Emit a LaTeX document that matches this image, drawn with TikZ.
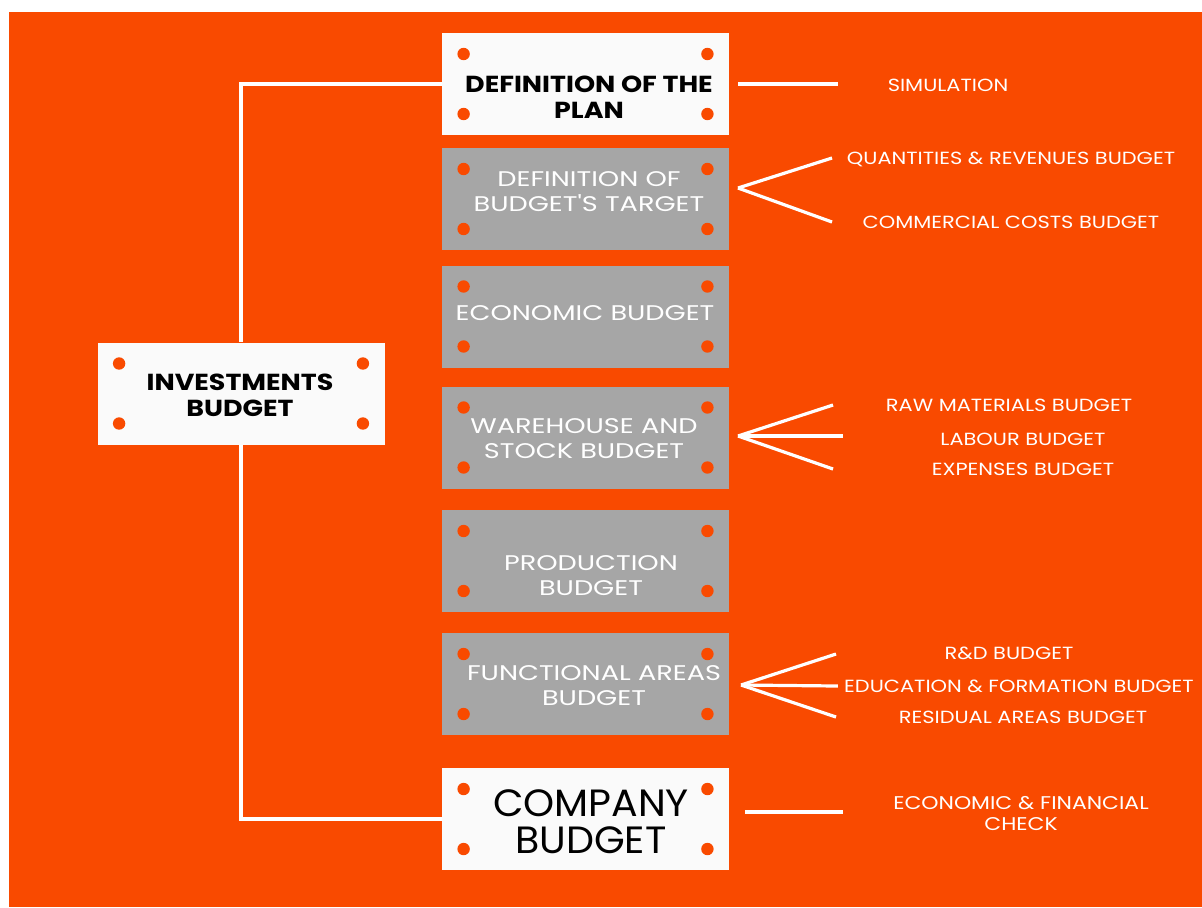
\documentclass[tikz,border=0pt]{standalone}
\usepackage{fontspec}
\setmainfont{Poppins}
\newfontfamily\titlefont[FakeStretch=1.16]{Poppins}
\newfontfamily\cardfont[FakeStretch=1.28]{Poppins}
\newfontfamily\subfont[FakeStretch=1.19]{Poppins}
\newfontfamily\bigfont[FakeStretch=1.04]{Poppins}
\usetikzlibrary{positioning}

\definecolor{bgorange}{HTML}{F94A00}
\definecolor{cardgrey}{HTML}{A6A6A6}
\definecolor{cardwhite}{HTML}{FAFAFA}

\tikzstyle{card} = [rectangle, minimum width=143.5pt, minimum height=51pt, inner sep=0pt,
  path picture={
    \foreach \corner/\dx/\dy in {north west/1/-1, north east/-1/-1, south west/1/1, south east/-1/1}
      \fill[bgorange] ([xshift=\dx*10.8pt, yshift=\dy*10.5pt]path picture bounding box.\corner) circle (3.1pt);
  }]
\tikzstyle{whitecard} = [card, fill=cardwhite]
\tikzstyle{greycard} = [card, fill=cardgrey]
\tikzstyle{boldtext} = [align=center, text=black, inner sep=0pt, font=\titlefont\bfseries\fontsize{11.6}{13}\selectfont]
\tikzstyle{greytext} = [align=center, text=white, inner sep=0pt, font=\cardfont\fontsize{10.6}{12.5}\selectfont]
\tikzstyle{bigtext} = [align=center, text=black, inner sep=0pt, font=\bigfont\fontsize{19}{18.5}\selectfont]
\tikzstyle{sublabel} = [align=center, text=white, inner sep=0pt, font=\subfont\fontsize{8.8}{10.5}\selectfont]
\tikzstyle{wire} = [white, line width=2.2pt]
\tikzstyle{twig} = [white, line width=1.6pt]

\begin{document}
\begin{tikzpicture}[x=0.5pt, y=-0.5pt]
    \useasboundingbox (0,0) rectangle (1202,907);
    \fill[white] (0,0) rectangle (1202,907);
    \fill[bgorange] (9,12) rectangle (1202,907);

    % boxes of the central column
    \node (plan)[whitecard] at (585.5,84) {};
    \node (target)[greycard] at (585.5,199) {};
    \node (economic)[greycard] at (585.5,316.5) {};
    \node (warehouse)[greycard] at (585.5,437.5) {};
    \node (production)[greycard] at (585.5,561) {};
    \node (functional)[greycard] at (585.5,684) {};
    \node (company)[whitecard] at (585.5,819) {};
    \node (invest)[whitecard] at (241,393.5) {};

    % box texts
    \node (plantext)[boldtext] at (589,97) {DEFINITION OF THE\\PLAN};
    \node (targettext)[greytext] at (589,191.5) {DEFINITION OF\\BUDGET'S TARGET};
    \node (economictext)[greytext] at (585,313) {ECONOMIC BUDGET};
    \node (warehousetext)[greytext] at (584,438.5) {WAREHOUSE AND\\STOCK BUDGET};
    \node (productiontext)[greytext] at (591,575.5) {PRODUCTION\\BUDGET};
    \node (functionaltext)[greytext] at (594,686) {FUNCTIONAL AREAS\\BUDGET};
    \node (companytext)[bigtext] at (591,822) {COMPANY\\BUDGET};
    \node (investtext)[boldtext] at (240,395) {INVESTMENTS\\BUDGET};

    % tree on the left
    \draw[wire] (plan.west) -| (invest.north);
    \draw[wire] (invest.south) |- (company.west);

    % sub-budgets on the right
    \node (sim)[sublabel] at (948,85) {SIMULATION};
    \node (qrb)[sublabel] at (1011,159) {QUANTITIES \& REVENUES BUDGET};
    \node (ccb)[sublabel] at (1011,222) {COMMERCIAL COSTS BUDGET};
    \node (rmb)[sublabel] at (1009,405) {RAW MATERIALS BUDGET};
    \node (lab)[sublabel] at (1023,439) {LABOUR BUDGET};
    \node (exb)[sublabel] at (1023,469) {EXPENSES BUDGET};
    \node (rnd)[sublabel] at (1009,653) {R\&D BUDGET};
    \node (efb)[sublabel] at (1019,686) {EDUCATION \& FORMATION BUDGET};
    \node (rab)[sublabel] at (1023,717) {RESIDUAL AREAS BUDGET};
    \node (efc)[sublabel, font=\subfont\fontsize{9.2}{10.5}\selectfont] at (1021,813) {ECONOMIC \& FINANCIAL\\CHECK};

    \coordinate (tfan) at (738,188);
    \coordinate (wfan) at (738,436);
    \coordinate (ffan) at (741,685);

    \draw[twig] ([xshift=4.5pt]plan.east) -- ++(100,0);
    \draw[twig] (tfan) -- (832,158);
    \draw[twig] (tfan) -- (832,222);
    \draw[twig] (wfan) -- (833,405);
    \draw[twig] (wfan) -- (843,436);
    \draw[twig] (wfan) -- (833,469);
    \draw[twig] (ffan) -- (836,654);
    \draw[twig] (ffan) -- ([xshift=-3pt]efb.west);
    \draw[twig] (ffan) -- (836,717);
    \draw[twig] ([xshift=8pt]company.east |- 0,812) -- ++(98,0);

\end{tikzpicture}
\end{document}
